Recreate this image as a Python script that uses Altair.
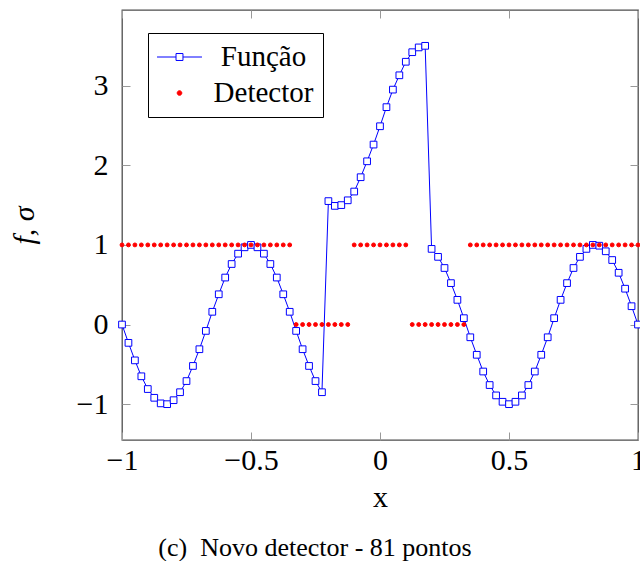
import altair as alt
import pandas as pd

x_vals = [
    -1.0, -0.975, -0.95, -0.925, -0.9, -0.875, -0.85, -0.825, -0.8, -0.775,
    -0.75, -0.725, -0.7, -0.675, -0.65, -0.625, -0.6, -0.575, -0.55, -0.525,
    -0.5, -0.475, -0.45, -0.425, -0.4, -0.375, -0.35, -0.325, -0.3, -0.275,
    -0.25, -0.225, -0.2, -0.175, -0.15, -0.125, -0.1, -0.075, -0.05, -0.025,
    0.0,
    0.025, 0.05, 0.075, 0.1, 0.125, 0.15, 0.175, 0.2, 0.225, 0.25,
    0.275, 0.3, 0.325, 0.35, 0.375, 0.4, 0.425, 0.45, 0.475, 0.5,
    0.525, 0.55, 0.575, 0.6, 0.625, 0.65, 0.675, 0.7, 0.725, 0.75,
    0.775, 0.8, 0.825, 0.85, 0.875, 0.9, 0.925, 0.95, 0.975, 1.0,
]

funcao = [
    0.00, -0.23, -0.45, -0.65, -0.81, -0.92, -0.99, -1.00, -0.95, -0.85,
    -0.71, -0.52, -0.31, -0.08, 0.16, 0.38, 0.59, 0.76, 0.89, 0.97,
    1.00, 0.97, 0.89, 0.76, 0.59, 0.38, 0.16, -0.08, -0.31, -0.52,
    -0.71, -0.85, 1.55, 1.49, 1.50, 1.56, 1.67, 1.85, 2.05, 2.26,
    2.49,
    2.73, 2.95, 3.13, 3.30, 3.42, 3.48, 3.50, 0.95, 0.85, 0.71,
    0.52, 0.31, 0.08, -0.16, -0.38, -0.59, -0.76, -0.89, -0.97, -1.00,
    -0.97, -0.89, -0.76, -0.59, -0.38, -0.16, 0.08, 0.31, 0.52, 0.71,
    0.85, 0.95, 1.00, 0.99, 0.92, 0.81, 0.65, 0.45, 0.23, 0.00,
]

detector = [
    1, 1, 1, 1, 1, 1, 1, 1, 1, 1,
    1, 1, 1, 1, 1, 1, 1, 1, 1, 1,
    1, 1, 1, 1, 1, 1, 1, 0, 0, 0,
    0, 0, 0, 0, 0, 0, 1, 1, 1, 1,
    1,
    1, 1, 1, 1, 0, 0, 0, 0, 0, 0,
    0, 0, 0, 1, 1, 1, 1, 1, 1, 1,
    1, 1, 1, 1, 1, 1, 1, 1, 1, 1,
    1, 1, 1, 1, 1, 1, 1, 1, 1, 1,
]

series_names = ["Função", "Detector"]
marker_names = ["quadrado", "ponto"]
x_ticks = [-1, -0.5, 0, 0.5, 1]
y_ticks = [-1, 0, 1, 2, 3]
caption = "(c)\u2002Novo detector - 81 pontos"

df_f = pd.DataFrame({"x": x_vals, "y": funcao, "serie": series_names[0], "marcador": marker_names[0]})
df_d = pd.DataFrame({"x": x_vals, "y": detector, "serie": series_names[1], "marcador": marker_names[1]})
df_all = pd.concat([df_f, df_d], ignore_index=True)

font = "Liberation Serif"
xscale = alt.Scale(domain=[-1, 1], nice=False, zero=False)
yscale = alt.Scale(domain=[-1.45, 3.95], nice=False, zero=False)

line = alt.Chart(df_f).mark_line(color="#0000ff", strokeWidth=1).encode(
    x=alt.X(
        "x:Q", scale=xscale,
        axis=alt.Axis(
            orient="bottom", values=x_ticks, format="~g", labelFlush=False,
            offset=-8, tickSize=8, domain=False,
            labelPadding=20, labelBaseline="middle", title="x",
            titleX=258, titleY=74, titleBaseline="alphabetic",
        ),
    ),
    y=alt.Y(
        "y:Q", scale=yscale,
        axis=alt.Axis(
            orient="left", values=y_ticks, format="~g", offset=-8, tickSize=8, domain=False,
            labelPadding=14, title="f, σ", titleX=-97, titleY=215, titleAngle=270,
            titleBaseline="alphabetic", titleFontStyle="italic",
        ),
    ),
)

is_f = "datum.value === 'Função'"
legend = alt.Legend(
    title=None, orient="none", legendX=26, legendY=23, padding=9,
    strokeColor="black", fillColor="white", labelFont=font, labelFontSize=29,
    labelAlign="center", labelOffset=69, rowPadding=6, labelLimit=0,
    labelExpr="'\u00a0\u00a0' + datum.label + '\u00a0\u00a0'",
    symbolSize=841, symbolStrokeWidth=1, symbolOffset=7.5,
    symbolType=alt.ExprRef(is_f + " ? 'M-1.55,0H-0.24M0.24,0H1.55M-0.24,-0.24H0.24V0.24H-0.24Z' : 'M-0.16,0A0.16,0.16,0,1,1,0.16,0A0.16,0.16,0,1,1,-0.16,0Z'"),
)

points = alt.Chart(df_all).mark_point(strokeWidth=1, opacity=1).encode(
    x=alt.X(
        "x:Q", scale=xscale,
        axis=alt.Axis(orient="top", values=x_ticks, offset=-8, tickSize=8,
                      domain=False, labels=False, title=None),
    ),
    y=alt.Y(
        "y:Q", scale=yscale,
        axis=alt.Axis(orient="right", values=y_ticks, offset=-8, tickSize=8,
                      domain=False, labels=False, title=None),
    ),
    fill=alt.Fill("serie:N", scale=alt.Scale(domain=series_names, range=["#ffffff", "#ff0000"]), legend=legend),
    stroke=alt.Stroke("serie:N", scale=alt.Scale(domain=series_names, range=["#0000ff", "#ff0000"]), legend=legend),
    shape=alt.Shape("marcador:N", scale=alt.Scale(domain=marker_names, range=["square", "circle"]), legend=None),
    size=alt.condition(alt.datum.serie == series_names[0], alt.value(45), alt.value(15)),
)

chart = alt.layer(line, points).properties(
    width=516,
    height=430,
    autosize=alt.AutoSizeParams(type="none"),
    padding={"left": 122, "top": 10, "right": 2, "bottom": 121},
    title=alt.TitleParams(
        text=caption, orient="bottom", anchor="middle", frame="group",
        dx=-65, offset=23, font=font, fontSize=26, fontWeight="normal",
        color="black", baseline="top",
    ),
).configure(
    background="white",
).configure_view(
    stroke="#4d4d4d", strokeWidth=1.3,
).configure_axis(
    labelFont=font, labelFontSize=30, labelColor="black",
    titleFont=font, titleFontSize=30, titleColor="black", titleFontWeight="normal",
    tickColor="#999999", tickWidth=1, grid=False,
)

chart.save("out.html", embed_options={"renderer": "svg", "actions": False})
